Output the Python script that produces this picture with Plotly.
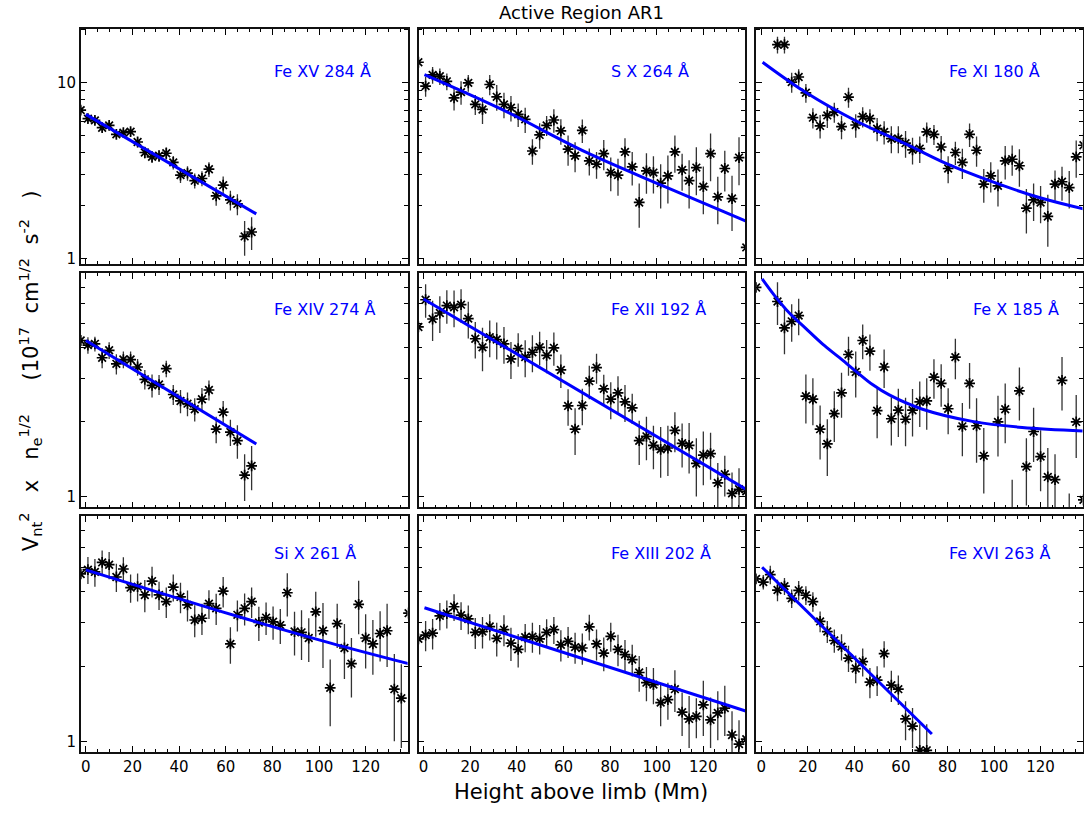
import plotly.graph_objects as go

# ---------------- data ----------------
HEIGHTS = [-2.2, 0.9, 3.9, 7.0, 10.0, 13.1, 16.1, 19.2, 22.2, 25.3, 28.4, 31.4, 34.5, 37.5,
           40.6, 43.6, 46.7, 49.8, 52.8, 55.9, 58.9, 62.0, 65.0, 68.1, 71.1, 74.2, 77.3,
           80.3, 83.4, 86.4, 89.5, 92.5, 95.6, 98.6, 101.7, 104.8, 107.8, 110.9, 113.9,
           117.0, 120.0, 123.1, 126.2, 129.2, 132.3, 135.3, 138.4]

TITLE = "Active Region AR1"
X_TITLE = "Height above limb (Mm)"
Y_TITLE = ("V<sub>nt</sub><sup>2</sup>&nbsp;&nbsp;&nbsp;x&nbsp;&nbsp;&nbsp;n<sub>e</sub><sup>1/2</sup>"
           "&nbsp;&nbsp;&nbsp;&nbsp;&nbsp;(10<sup>17</sup>&nbsp;&nbsp;cm<sup>1/2</sup>"
           "&nbsp;&nbsp;s<sup>-2</sup>&nbsp;&nbsp;&nbsp;)")

LINE_NAMES = ["Fe XV 284 Å", "S X 264 Å", "Fe XI 180 Å",
              "Fe XIV 274 Å", "Fe XII 192 Å", "Fe X 185 Å",
              "Si X 261 Å", "Fe XIII 202 Å", "Fe XVI 263 Å"]

X_TICKS = [0, 20, 40, 60, 80, 100, 120]

FE15_VALS = [7.0, 6.26, 6.12, 5.56, 5.73, 5.10, 5.21, 5.28, 4.61, 4.02, 3.80, 3.85, 3.98,
             3.53, 2.99, 3.07, 2.78, 2.86, 3.23, 2.28, 2.62, 2.16, 2.05, 1.34, 1.42]
FE15_ERRS = [0.37, 0.33, 0.32, 0.29, 0.30, 0.27, 0.27, 0.28, 0.30, 0.31, 0.30, 0.30, 0.31,
             0.31, 0.29, 0.29, 0.27, 0.28, 0.31, 0.28, 0.32, 0.28, 0.28, 0.30, 0.30]
FE15_FIT_X = [0.0, 73.1]
FE15_FIT_Y = [6.62, 1.80]

S10_VALS = [13.1, 9.58, 11.1, 10.9, 10.2, 8.22, 8.86, 10.0, 7.54, 7.06, 9.79, 8.33, 7.54,
            7.22, 6.62, 6.20, 4.10, 5.06, 5.73, 6.15, 5.33, 4.20, 3.85, 5.37, 3.60, 3.45,
            3.96, 3.09, 2.99, 4.05, 3.33, 2.09, 3.16, 3.09, 2.69, 2.96, 4.05, 3.20, 2.78,
            3.30, 2.57, 3.96, 2.25, 3.26, 2.20, 3.76, 1.16]
S10_ERRS = [0.57, 1.25, 1.21, 1.18, 1.11, 1.25, 1.35, 1.09, 0.98, 1.23, 1.28, 1.38, 1.25,
            1.19, 1.01, 1.02, 0.68, 0.84, 0.75, 0.94, 0.88, 0.82, 0.75, 0.82, 0.63, 0.60,
            0.77, 0.67, 0.71, 0.79, 0.72, 0.59, 0.82, 0.74, 0.76, 0.90, 0.97, 0.76, 0.85,
            1.00, 0.78, 1.20, 0.68, 0.85, 0.76, 1.14, 0.05]
S10_FIT_X = [0.4, 33.6, 69.4, 101.7, 138.7]
S10_FIT_Y = [11.14, 7.06, 4.05, 2.63, 1.63]

FE11_VALS = [None, None, None, 16.5, 16.5, 10.1, 10.8, 8.78, 6.34, 5.69, 6.53, 6.82, 5.64,
             8.30, 5.76, 6.42, 6.26, 5.49, 5.26, 4.82, 4.82, 4.54, 4.16, 4.23, 5.26, 5.10,
             4.32, 3.26, 4.02, 3.53, 5.10, 4.14, 2.66, 2.96, 2.60, 3.60, 3.68, 3.38, 1.94,
             2.16, 2.09, 1.74, 2.66, 2.74, 2.54, 3.80, 4.42]
FE11_ERRS = [0, 0, 0, 1.79, 1.79, 1.32, 1.17, 1.07, 0.83, 0.87, 0.99, 0.89, 0.86, 1.08,
             0.88, 0.84, 0.82, 0.83, 0.80, 0.84, 0.84, 0.79, 0.72, 0.73, 0.69, 0.66, 0.66,
             0.57, 0.61, 0.69, 0.78, 0.81, 0.58, 0.58, 0.62, 0.78, 0.72, 0.81, 0.55, 0.52,
             0.50, 0.57, 0.52, 0.60, 0.61, 0.91, 0.77]
FE11_FIT_X = [0.6, 19.4, 40.8, 62.3, 80.1, 98.0, 119.4, 138.6]
FE11_FIT_Y = [13.1, 8.78, 6.07, 4.48, 3.45, 2.78, 2.23, 1.92]

FE14_VALS = [4.26, 4.08, 4.13, 3.63, 3.89, 3.43, 3.57, 3.57, 3.33, 2.97, 2.81, 2.83, 3.28,
             2.58, 2.43, 2.37, 2.25, 2.47, 2.69, 1.87, 2.19, 1.82, 1.68, 1.22, 1.33]
FE14_ERRS = [0.20, 0.31, 0.28, 0.34, 0.30, 0.32, 0.28, 0.28, 0.26, 0.27, 0.30, 0.26, 0.25,
             0.24, 0.26, 0.26, 0.24, 0.27, 0.25, 0.23, 0.24, 0.22, 0.26, 0.26, 0.27]
FE14_FIT_X = [0.0, 73.1]
FE14_FIT_Y = [4.26, 1.63]

FE12_VALS = [4.83, 6.22, 5.20, 5.50, 5.89, 5.80, 5.94, 5.22, 4.33, 4.00, 4.39, 4.30, 4.13,
             3.59, 3.95, 3.65, 3.82, 4.00, 3.71, 3.98, 3.24, 2.32, 1.87, 2.33, 2.92, 3.31,
             2.72, 2.47, 2.62, 2.41, 2.28, 1.68, 1.75, 1.61, 1.55, 1.57, 1.85, 1.64, 1.61,
             1.36, 1.47, 1.49, 1.135, 1.23, 1.03, 1.07, 1.05]
FE12_ERRS = [0.15, 0.96, 0.96, 0.93, 0.91, 0.98, 0.92, 0.88, 0.73, 0.80, 0.74, 0.73, 0.70,
             0.61, 0.61, 0.62, 0.65, 0.62, 0.57, 0.61, 0.50, 0.39, 0.40, 0.39, 0.45, 0.46,
             0.38, 0.42, 0.44, 0.41, 0.32, 0.34, 0.35, 0.32, 0.36, 0.36, 0.34, 0.33, 0.37,
             0.36, 0.36, 0.32, 0.23, 0.23, 0.22, 0.23, 0.05]
FE12_FIT_X = [0.0, 138.6]
FE12_FIT_Y = [6.26, 1.067]

FE10_VALS = [6.97, None, None, 6.12, 4.79, 5.09, 5.37, 2.54, 2.47, 1.87, 1.63, 2.16, 2.62,
             3.74, 3.18, 4.26, 3.86, 2.22, 3.33, 2.06, 2.23, 2.05, 2.23, 2.41, 2.43, 3.03,
             2.86, 2.26, 3.65, 1.92, 2.86, 1.93, 1.46, None, 2.0, 2.25, 0.75, 2.67, 1.32,
             1.83, 1.45, 1.20, 1.17, 2.94, 0.70, 2.0, 0.97]
FE10_ERRS = [0.3, 0, 0, 1.2, 1.04, 0.88, 0.9, 0.57, 0.53, 0.46, 0.42, 0.50, 0.54, 0.67,
             0.67, 0.68, 0.64, 0.50, 0.59, 0.455, 0.49, 0.455, 0.485, 0.5, 0.57, 0.55,
             0.555, 0.475, 0.675, 0.465, 0.6, 0.56, 0.43, 0, 0.55, 0.61, 0.42, 0.645, 0.40,
             0.45, 0.40, 0.37, 0.31, 0.715, 0.33, 0.57, 0.05]
FE10_FIT_X = [0.4, 6.0, 12.1, 19.0, 26.4, 33.5, 40.7, 47.8, 55.0, 69.3, 90.7, 112.1, 138.2]
FE10_FIT_Y = [7.55, 6.42, 5.50, 4.78, 4.12, 3.64, 3.20, 2.83, 2.57, 2.25, 2.01, 1.90, 1.84]

SI10_VALS = [4.70, 4.89, 4.79, 5.23, 5.12, 4.57, 4.92, 4.14, 4.18, 3.87, 4.40, 3.87, 3.64,
             4.16, 3.80, 3.53, 3.07, 3.12, 3.57, 3.42, 4.01, 2.46, 3.22, 3.42, 3.64, 3.00,
             3.14, 3.02, 2.93, 3.95, 2.76, 2.74, 2.60, 3.31, 2.78, 1.64, 2.97, 2.37, 2.05,
             3.55, 2.60, 2.46, 2.71, 2.78, 1.62, 1.49, 3.27]
SI10_ERRS = [0.2, 0.61, 0.61, 0.61, 0.64, 0.59, 0.56, 0.54, 0.54, 0.57, 0.62, 0.50, 0.51,
             0.52, 0.53, 0.50, 0.45, 0.45, 0.47, 0.49, 0.56, 0.41, 0.46, 0.50, 0.51, 0.47,
             0.47, 0.46, 0.47, 0.78, 0.55, 0.62, 0.52, 0.68, 0.81, 0.49, 0.60, 0.59, 0.55,
             0.86, 0.64, 0.61, 0.62, 0.79, 0.62, 0.55, 0.2]
SI10_FIT_X = [0.0, 33.6, 69.3, 105.0, 138.4]
SI10_FIT_Y = [4.88, 3.90, 3.09, 2.48, 2.05]

FE13_VALS = [2.58, 2.67, 2.72, 3.19, 3.26, 3.47, 3.21, 3.10, 2.74, 2.76, 2.89, 2.59, 2.81,
             2.48, 2.34, 2.62, 2.63, 2.58, 2.74, 2.81, 2.44, 2.52, 2.39, 2.37, 2.88, 2.46,
             2.26, 2.64, 2.34, 2.23, 2.13, 1.89, 1.72, 1.69, 1.43, 1.47, 1.62, 1.31, 1.23,
             1.26, 1.40, 1.22, 1.30, 1.36, 1.06, 0.975, 1.02]
FE13_ERRS = [0.15, 0.37, 0.38, 0.40, 0.42, 0.43, 0.41, 0.41, 0.39, 0.40, 0.35, 0.40, 0.40,
             0.38, 0.36, 0.34, 0.36, 0.35, 0.35, 0.35, 0.35, 0.36, 0.34, 0.34, 0.34, 0.35,
             0.35, 0.35, 0.34, 0.32, 0.31, 0.31, 0.27, 0.28, 0.28, 0.25, 0.31, 0.26, 0.29,
             0.23, 0.35, 0.28, 0.29, 0.31, 0.26, 0.24, 0.1]
FE13_FIT_X = [0.4, 138.6]
FE13_FIT_Y = [3.44, 1.32]

FE16_VALS = [4.49, 4.36, 4.67, 4.05, 4.20, 3.75, 4.04, 3.86, 3.64, 3.03, 2.76, 2.54, 2.40,
             2.16, 1.96, 2.09, 1.73, 1.76, 2.25, 1.68, 1.62, 1.23, 1.15, 0.92, 0.92]
FE16_ERRS = [0.2, 0.29, 0.40, 0.40, 0.33, 0.32, 0.36, 0.33, 0.33, 0.29, 0.28, 0.27, 0.29,
             0.26, 0.25, 0.27, 0.24, 0.24, 0.27, 0.24, 0.22, 0.22, 0.21, 0.25, 0.25]
FE16_FIT_X = [0.4, 73.3]
FE16_FIT_Y = [5.00, 1.07]

PANELS = [
    (FE15_VALS, FE15_ERRS, FE15_FIT_X, FE15_FIT_Y),
    (S10_VALS, S10_ERRS, S10_FIT_X, S10_FIT_Y),
    (FE11_VALS, FE11_ERRS, FE11_FIT_X, FE11_FIT_Y),
    (FE14_VALS, FE14_ERRS, FE14_FIT_X, FE14_FIT_Y),
    (FE12_VALS, FE12_ERRS, FE12_FIT_X, FE12_FIT_Y),
    (FE10_VALS, FE10_ERRS, FE10_FIT_X, FE10_FIT_Y),
    (SI10_VALS, SI10_ERRS, SI10_FIT_X, SI10_FIT_Y),
    (FE13_VALS, FE13_ERRS, FE13_FIT_X, FE13_FIT_Y),
    (FE16_VALS, FE16_ERRS, FE16_FIT_X, FE16_FIT_Y),
]

# ---------------- layout geometry / styling ----------------
W, H = 1084, 813
COL_PX = [(81, 408), (419, 746), (757, 1083.5)]
ROW_PX = [(29, 265), (274, 510), (519, 756)]
Y_LOG_RANGES = [(-0.028, 1.307), (-0.044, 0.903), (-0.044, 0.903)]
Y_MAJOR = [[1, 10], [1], [1]]
Y_MINOR = [[2, 3, 4, 5, 6, 7, 8, 9, 20], [2, 3, 4, 5, 6, 7, 8, 9], [2, 3, 4, 5, 6, 7, 8, 9]]
LABEL_X_FRAC = [0.584, 0.584, 0.584, 0.584, 0.584, 0.657, 0.584, 0.584, 0.584]
LABEL_Y_FRAC = [0.819, 0.845, 0.845]
FONT = "DejaVu Sans"
BLUE = "#0000ff"

fig = go.Figure()
layout = dict(
    width=W, height=H,
    margin=dict(l=0, r=0, t=0, b=0),
    paper_bgcolor="white", plot_bgcolor="white",
    showlegend=False,
    font=dict(family=FONT, size=15, color="black"),
    annotations=[],
)

for k, (vals, errs, fx, fy) in enumerate(PANELS):
    r, c = divmod(k, 3)
    n = k + 1
    xs = HEIGHTS[:len(vals)]
    xa = "x" if n == 1 else f"x{n}"
    ya = "y" if n == 1 else f"y{n}"
    fig.add_trace(go.Scatter(
        x=xs, y=vals, mode="markers", xaxis=xa, yaxis=ya,
        marker=dict(symbol="asterisk", size=9, color="black",
                    line=dict(color="black", width=1.7)),
        error_y=dict(type="data", array=errs, symmetric=True, width=0,
                     thickness=1.3, color="#333333"),
        cliponaxis=True,
    ))
    fig.add_trace(go.Scatter(
        x=fx, y=fy, mode="lines", xaxis=xa, yaxis=ya,
        line=dict(color=BLUE, width=3,
                  shape="spline" if len(fx) > 2 else "linear"),
    ))
    x0, x1 = COL_PX[c]
    y0, y1 = ROW_PX[r]
    layout["xaxis" if n == 1 else f"xaxis{n}"] = dict(
        domain=[x0 / W, x1 / W], anchor=ya, range=[-2.1, 138.0],
        tickvals=X_TICKS, ticks="inside", ticklen=6, tickwidth=1.2, tickcolor="black",
        minor=dict(dtick=5, tick0=0, ticks="inside", ticklen=3, tickwidth=1.1,
                   tickcolor="black", showgrid=False),
        showticklabels=(r == 2), tickfont=dict(size=15, family=FONT),
        showline=True, linecolor="#111111", linewidth=1.7, mirror="allticks",
        showgrid=False, zeroline=False,
    )
    layout["yaxis" if n == 1 else f"yaxis{n}"] = dict(
        domain=[1 - y1 / H, 1 - y0 / H], anchor=xa, type="log",
        range=list(Y_LOG_RANGES[r]),
        tickvals=Y_MAJOR[r], ticktext=[str(v) for v in Y_MAJOR[r]],
        ticks="inside", ticklen=6, tickwidth=1.2, tickcolor="black",
        minor=dict(tickvals=Y_MINOR[r], ticks="inside", ticklen=4, tickwidth=1.1,
                   tickcolor="black", showgrid=False),
        showticklabels=(c == 0), tickfont=dict(size=15, family=FONT),
        showline=True, linecolor="#111111", linewidth=1.7, mirror="allticks",
        showgrid=False, zeroline=False,
    )
    layout["annotations"].append(dict(
        text=LINE_NAMES[k], xref=f"{xa} domain", yref=f"{ya} domain",
        x=LABEL_X_FRAC[k], y=LABEL_Y_FRAC[r], xanchor="left", yanchor="middle",
        showarrow=False, font=dict(family=FONT, size=16, color=BLUE),
    ))

layout["annotations"] += [
    dict(text=TITLE, xref="paper", yref="paper", x=582 / W, y=1 - 13 / H,
         xanchor="center", yanchor="middle", showarrow=False,
         font=dict(family=FONT, size=18, color="black")),
    dict(text=X_TITLE, xref="paper", yref="paper", x=582 / W, y=1 - 796 / H,
         xanchor="center", yanchor="middle", showarrow=False,
         font=dict(family=FONT, size=21, color="black")),
    dict(text=Y_TITLE, xref="paper", yref="paper", x=30 / W, y=1 - 373 / H,
         xanchor="center", yanchor="middle", showarrow=False, textangle=-90,
         font=dict(family=FONT, size=21, color="black")),
]

fig.update_layout(**layout)
fig.write_html("out.html")
